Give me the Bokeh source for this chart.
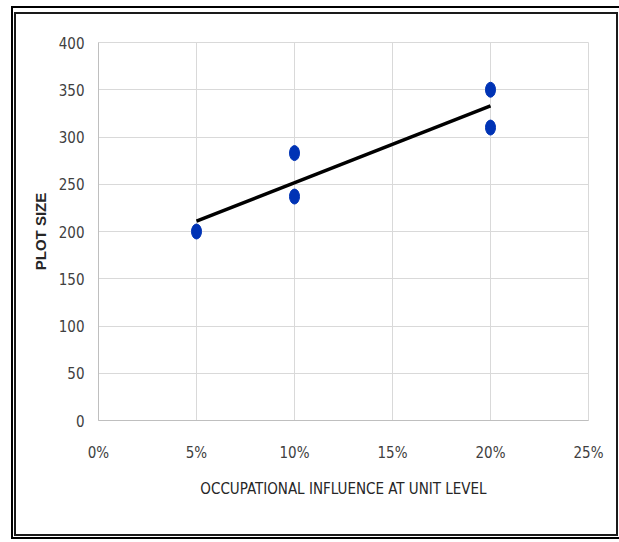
from bokeh.plotting import figure
from bokeh.models import FixedTicker, Range1d, Column
from bokeh.embed import file_html
from bokeh.resources import INLINE

# Data
influence = [0.05, 0.10, 0.10, 0.20, 0.20]
plot_size = [200, 283, 237, 350, 310]
trend_x = [0.05, 0.20]
trend_y = [211, 333]
x_ticks = [0.0, 0.05, 0.10, 0.15, 0.20, 0.25]
x_tick_labels = ["0%", "5%", "10%", "15%", "20%", "25%"]
y_ticks = [0, 50, 100, 150, 200, 250, 300, 350, 400]

NARROW = "'DejaVu Sans Condensed', 'Liberation Sans Narrow', serif"

p = figure(width=600, height=520, output_backend="svg", toolbar_location=None,
           x_range=Range1d(0, 0.25), y_range=Range1d(0, 400),
           min_border_left=82, min_border_right=28, min_border_top=28, min_border_bottom=114)

p.background_fill_color = "white"
p.border_fill_color = "white"
p.outline_line_color = "#d9d9d9"

# Grid
p.xgrid.ticker = FixedTicker(ticks=x_ticks)
p.ygrid.ticker = FixedTicker(ticks=y_ticks)
p.xgrid.grid_line_color = "#d9d9d9"
p.ygrid.grid_line_color = "#d9d9d9"

# Axes
p.xaxis.ticker = FixedTicker(ticks=x_ticks)
p.xaxis.major_label_overrides = {t: l for t, l in zip(x_ticks, x_tick_labels)}
p.yaxis.ticker = FixedTicker(ticks=y_ticks)
for ax in (p.xaxis[0], p.yaxis[0]):
    ax.axis_line_color = "#bfbfbf"
    ax.major_tick_line_color = None
    ax.minor_tick_line_color = None
    ax.major_tick_out = 0
    ax.major_tick_in = 0
    ax.major_label_text_font = NARROW
    ax.major_label_text_font_size = "15px"
    ax.major_label_text_color = "#404040"

p.xaxis.major_label_standoff = 23
p.yaxis.major_label_standoff = 14

p.xaxis.axis_label = "OCCUPATIONAL INFLUENCE AT UNIT LEVEL"
p.xaxis.axis_label_text_font = NARROW
p.xaxis.axis_label_text_font_size = "15px"
p.xaxis.axis_label_text_font_style = "normal"
p.xaxis.axis_label_text_color = "#262626"
p.xaxis.axis_label_standoff = 15

p.yaxis.axis_label = "PLOT SIZE"
p.yaxis.axis_label_text_font = "Liberation Sans"
p.yaxis.axis_label_text_font_size = "15px"
p.yaxis.axis_label_text_font_style = "bold"
p.yaxis.axis_label_text_color = "#262626"
p.yaxis.axis_label_standoff = 7

# Trend line
p.line(trend_x, trend_y, line_color="black", line_width=3.5)

# Points (ellipses)
p.ellipse(x=influence, y=plot_size, width=10, height=15,
          width_units="screen", height_units="screen",
          fill_color="#0033b5", line_color="#0033b5")

# Double frame around the chart
inner = Column(p, styles={"border": "2px solid #1a1a1a"})
outer = Column(inner, styles={"border": "2px solid black",
                              "padding": "4px 3px 1px 1px",
                              "margin": "6px 0 0 11px"})

open("out.html", "w").write(file_html(outer, INLINE))
